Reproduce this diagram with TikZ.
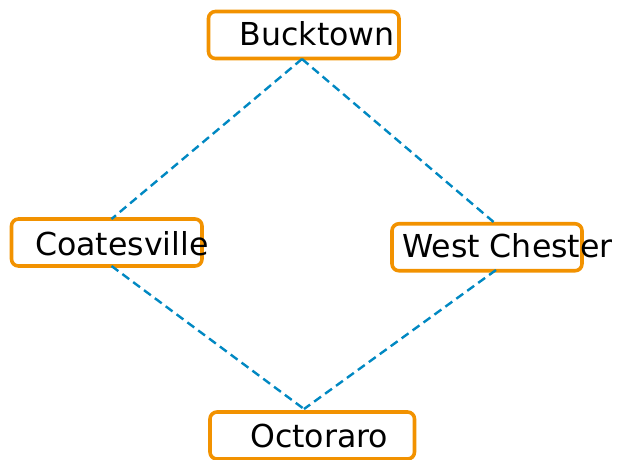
\documentclass[tikz,border=0pt]{standalone}
\usepackage{fontspec}
\setmainfont{DejaVu Sans}
\definecolor{boxorange}{RGB}{242,146,0}
\definecolor{linkblue}{RGB}{0,136,194}
\tikzset{
  place/.style={draw=boxorange, line width=3.6pt, rounded corners=7pt, minimum height=47pt, inner sep=0pt},
  placelabel/.style={anchor=base west, inner sep=0pt, font=\fontsize{31.6}{38}\selectfont, text=black},
  link/.style={draw=linkblue, line width=2.4pt, dash pattern=on 8.5pt off 5pt}
}
\begin{document}
\begin{tikzpicture}[x=1pt,y=-1pt]
\useasboundingbox (0,0) rectangle (618,459);
% boxes
\node[place, minimum width=190.5pt] (bucktown) at (303.75,35) {};
\node[place, minimum width=190.5pt] (coatesville) at (106.75,242.5) {};
\node[place, minimum width=190pt] (westchester) at (487,247.25) {};
\node[place, minimum width=204.5pt] (octoraro) at (312.25,435.5) {};
% labels
\node[placelabel] (bucktownlabel) at (239.5,45.7) {Bucktown};
\node[placelabel] (coatesvillelabel) at (35,255.5) {Coatesville};
\node[placelabel] (westchesterlabel) at (402,257) {West Chester};
\node[placelabel] (octorarolabel) at (250,447) {Octoraro};
% attach points
\coordinate (bS) at (302,59);
\coordinate (cN) at (111.5,219);
\coordinate (cS) at (111.5,266);
\coordinate (wN) at (496,224);
\coordinate (wS) at (496,270);
\coordinate (oN) at (304,409);
% connectors
\draw[link] (bS) -- (cN);
\draw[link] (bS) -- (wN);
\draw[link] (cS) -- (oN);
\draw[link] (wS) -- (oN);
\end{tikzpicture}
\end{document}
